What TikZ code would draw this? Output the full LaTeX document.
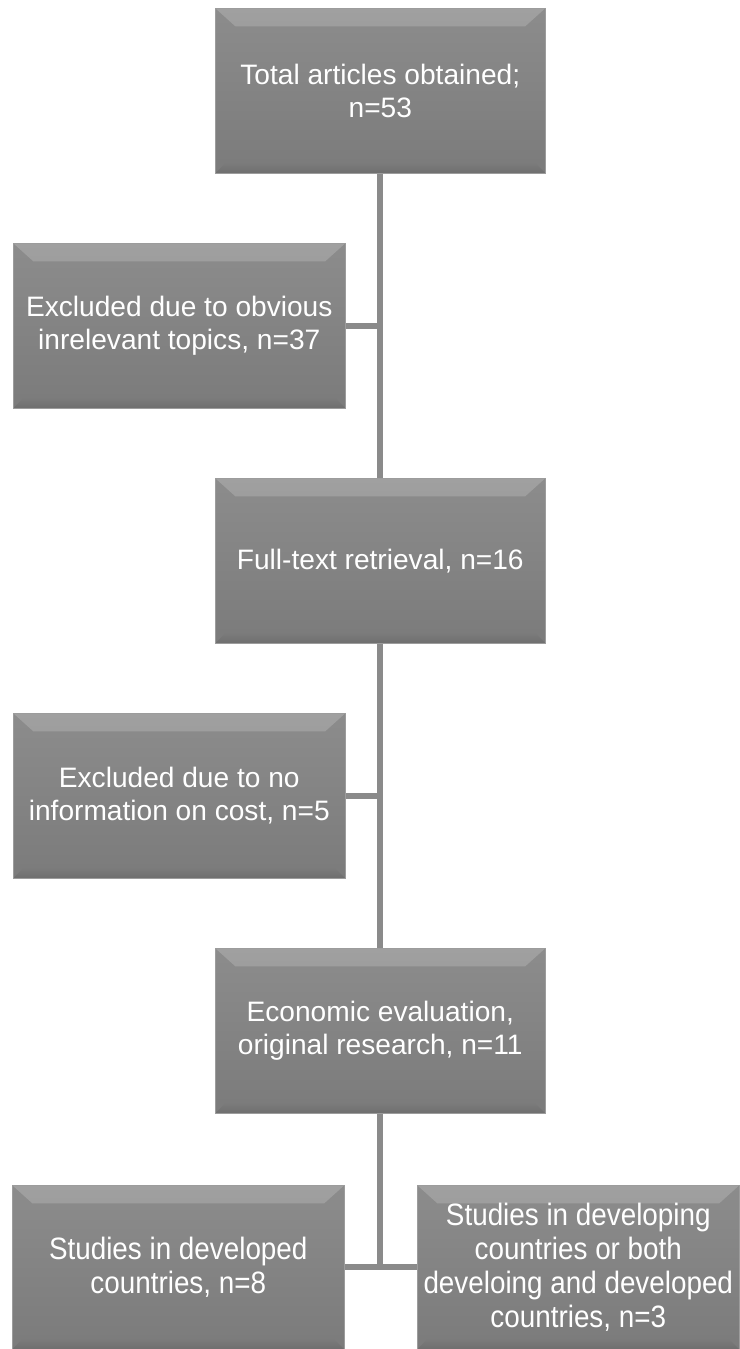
\documentclass[tikz,border=0pt]{standalone}
\usepackage{fontspec}
\setmainfont{Liberation Sans}
\newfontfamily\narrowfont{Liberation Sans}[FakeStretch=0.9]
\usetikzlibrary{positioning,backgrounds}

\definecolor{boxfill}{HTML}{858585}
\definecolor{boxlight}{HTML}{8C8C8C}
\definecolor{boxdark}{HTML}{7B7B7B}
\definecolor{boxtop}{HTML}{A0A0A0}
\definecolor{boxbottom}{HTML}{6E6E6E}
\definecolor{boxedge}{HTML}{9C9C9C}
\definecolor{linegray}{HTML}{8A8A8A}

\tikzset{
  flowbox/.style={rectangle, draw=boxedge, line width=0.4pt, top color=boxlight, bottom color=boxdark,
    text=white, align=center, anchor=north west, minimum width=82.5mm, minimum height=41.25mm,
    font=\fontsize{20}{23.5}\selectfont,
    path picture={
      \shade[top color=boxtop, bottom color=boxlight]
        (path picture bounding box.north west) -- (path picture bounding box.north east)
        -- ([xshift=-5mm,yshift=-4.5mm]path picture bounding box.north east)
        -- ([xshift=5mm,yshift=-4.5mm]path picture bounding box.north west) -- cycle;
      \shade[top color=boxdark, bottom color=boxbottom]
        (path picture bounding box.south west) -- (path picture bounding box.south east)
        -- ([xshift=-2.5mm,yshift=2.5mm]path picture bounding box.south east)
        -- ([xshift=2.5mm,yshift=2.5mm]path picture bounding box.south west) -- cycle;
    }},
  lowbox/.style={flowbox, minimum height=41mm, font=\narrowfont\fontsize{22}{24}\selectfont},
  link/.style={draw=linegray, line width=1.5mm}
}

\begin{document}
\begin{tikzpicture}
\useasboundingbox (0,0) rectangle (18.475,-33.725);

\node (total) [flowbox] at (5.375,-0.2) {Total articles obtained;\\n=53};
\node (excl1) [flowbox, minimum width=83mm] at (0.325,-6.075) {Excluded due to obvious\\inrelevant topics, n=37};
\node (fulltext) [flowbox] at (5.375,-11.95) {Full-text retrieval, n=16};
\node (excl2) [flowbox, minimum width=83mm] at (0.325,-17.825) {Excluded due to no\\information on cost, n=5};
\node (econ) [flowbox] at (5.375,-23.7) {Economic evaluation,\\original research, n=11};

\node (devd) [lowbox, minimum width=83mm] at (0.3,-29.625) {Studies in developed\\countries, n=8};
\node (devg) [lowbox, minimum width=80.5mm] at (10.425,-29.625) {Studies in developing\\countries or both\\develoing and developed\\countries, n=3};

% connectors behind the boxes
\begin{scope}[on background layer]
\draw [link] (total.south) -- (fulltext.north);
\draw [link] (fulltext.south) -- (econ.north);
\draw [link] (excl1.east) -- (excl1.east -| total.south);
\draw [link] (excl2.east) -- (excl2.east -| fulltext.south);
\draw [link] (econ.south) -- ([yshift=-0.75mm]econ.south |- devd.east);
\draw [link] (devd.east) -- (devg.west);
\end{scope}
\end{tikzpicture}
\end{document}
